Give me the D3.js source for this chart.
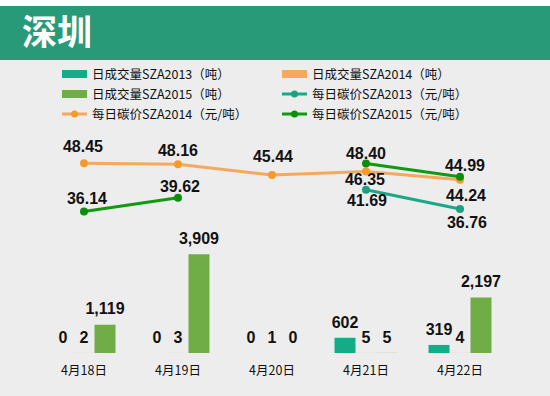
<!DOCTYPE html>
<html>
<head>
<meta charset="utf-8">
<script src="https://cdn.jsdelivr.net/npm/d3@7"></script>
<style>
  body { margin: 0; background: #fff; }
  svg { display: block; }
</style>
</head>
<body>
<div id="chart"></div>
<script>
// data
var categories = ["4月18日", "4月19日", "4月20日", "4月21日", "4月22日"];
var volume2013 = [0, 0, 0, 602, 319];
var volume2014 = [2, 3, 1, 5, 4];
var volume2015 = [1119, 3909, 0, 5, 2197];
var price2013 = [null, null, null, 41.69, 36.76];
var price2014 = [48.45, 48.16, 45.44, 46.35, 44.24];
var price2015 = [36.14, 39.62, null, 48.40, 44.99];
var volumeNames = ["日成交量SZA2013（吨）", "日成交量SZA2014（吨）", "日成交量SZA2015（吨）"];
var priceNames = ["每日碳价SZA2013（元/吨）", "每日碳价SZA2014（元/吨）", "每日碳价SZA2015（元/吨）"];

var width = 550;
var height = 396;

var margin = { top: 118, right: 43, bottom: 43, left: 37 };
var innerWidth = width - margin.left - margin.right;
var innerHeight = height - margin.top - margin.bottom;

var barColors = ["#13ac87", "#f4a95c", "#70ad47"];
var lineColors = ["#1aa88a", "#f5a95e", "#119911"];
var markerColors = ["#1f9f7f", "#f79a2c", "#0b8f0b"];

var svg = d3.select("#chart")
    .append("svg")
    .attr("width", width)
    .attr("height", height);

// background + header band
svg.append("rect").attr("width", width).attr("height", height).attr("fill", "#ededed");
svg.append("rect").attr("width", width).attr("height", 6).attr("fill", "#ffffff");
svg.append("rect").attr("y", 6).attr("width", width).attr("height", 54).attr("fill", "#289a78");
svg.append("text")
    .attr("x", 22)
    .attr("y", 32)
    .attr("dy", "0.36em")
    .style("font-family", "'Noto Sans CJK SC'")
    .style("font-weight", "bold")
    .style("font-size", "35px")
    .attr("fill", "#fff")
    .text("深圳");

// legend
var legendItems = [
    { name: volumeNames[0], type: "bar", i: 0, x: 62, y: 74 },
    { name: volumeNames[1], type: "bar", i: 1, x: 282, y: 74 },
    { name: volumeNames[2], type: "bar", i: 2, x: 62, y: 94 },
    { name: priceNames[0], type: "line", i: 0, x: 282, y: 94 },
    { name: priceNames[1], type: "line", i: 1, x: 62, y: 114 },
    { name: priceNames[2], type: "line", i: 2, x: 282, y: 114 }
];
var legend = svg.append("g").selectAll("g")
    .data(legendItems)
    .enter()
    .append("g")
    .attr("transform", function(d) { return "translate(" + d.x + "," + d.y + ")"; });

legend.filter(function(d) { return d.type == "bar"; })
    .append("rect")
    .attr("y", -4).attr("width", 25).attr("height", 8)
    .attr("fill", function(d) { return barColors[d.i]; });
legend.filter(function(d) { return d.type == "line"; })
    .append("line")
    .attr("x2", 25)
    .attr("stroke", function(d) { return lineColors[d.i]; })
    .attr("stroke-width", 3);
legend.filter(function(d) { return d.type == "line"; })
    .append("circle")
    .attr("cx", 12.5).attr("r", 3.5)
    .attr("fill", function(d) { return markerColors[d.i]; });
legend.append("text")
    .attr("x", 30)
    .attr("dy", "0.36em")
    .style("font-family", "'Noto Sans CJK SC'")
    .style("font-size", "12.5px")
    .attr("fill", "#111")
    .text(function(d) { return d.name; });

var g = svg.append("g")
    .attr("transform", "translate(" + margin.left + "," + margin.top + ")");

// scales
var x0 = d3.scaleBand()
    .domain(categories)
    .range([0, innerWidth])
    .paddingInner(0.33)
    .paddingOuter(0.165);
var x1 = d3.scaleBand()
    .domain([0, 1, 2])
    .range([0, x0.bandwidth()]);
var yVol = d3.scaleLinear().domain([0, 9300]).range([innerHeight, 0]);
var yPrice = d3.scaleLinear().domain([0, 60]).range([innerHeight, 0]);

var volumes = [volume2013, volume2014, volume2015];
var prices = [price2013, price2014, price2015];

// bars
var barData = [];
categories.forEach(function(c, ci) {
    volumes.forEach(function(s, si) {
        barData.push({ cat: c, s: si, v: s[ci] });
    });
});

g.selectAll(".bar")
    .data(barData)
    .enter()
    .append("rect")
    .attr("class", "bar")
    .attr("x", function(d) { return x0(d.cat) + x1(d.s); })
    .attr("width", x1.bandwidth())
    .attr("y", function(d) { return yVol(d.v); })
    .attr("height", function(d) { return innerHeight - yVol(d.v); })
    .attr("fill", function(d) { return barColors[d.s]; });

g.selectAll(".barlabel")
    .data(barData)
    .enter()
    .append("text")
    .attr("class", "barlabel")
    .attr("x", function(d) { return x0(d.cat) + x1(d.s) + x1.bandwidth() / 2; })
    .attr("y", function(d) { return yVol(d.v) - 16; })
    .attr("dy", "0.36em")
    .attr("text-anchor", "middle")
    .style("font-family", "'Liberation Sans', Arial")
    .style("font-weight", "bold")
    .style("font-size", "16px")
    .attr("fill", "#111")
    .text(function(d) { return d3.format(",")(d.v); });

// category labels
g.selectAll(".cat")
    .data(categories)
    .enter()
    .append("text")
    .attr("class", "cat")
    .attr("x", function(d) { return x0(d) + x0.bandwidth() / 2; })
    .attr("y", innerHeight + 17)
    .attr("dy", "0.36em")
    .attr("text-anchor", "middle")
    .style("font-family", "'Noto Sans CJK SC'")
    .style("font-size", "12.5px")
    .attr("fill", "#111")
    .text(function(d) { return d; });

// price lines
function cx(i) { return x0(categories[i]) + x0.bandwidth() / 2; }

var line = d3.line()
    .defined(function(d) { return d != null; })
    .x(function(d, i) { return cx(i); })
    .y(function(d) { return yPrice(d); });

// draw 2014 first, then 2013, then 2015 on top
[1, 0, 2].forEach(function(si) {
    g.append("path")
        .datum(prices[si])
        .attr("fill", "none")
        .attr("stroke", lineColors[si])
        .attr("stroke-width", 3)
        .attr("d", line);
    g.selectAll(".m" + si)
        .data(prices[si].map(function(v, i) { return { v: v, i: i }; }).filter(function(d) { return d.v != null; }))
        .enter()
        .append("circle")
        .attr("cx", function(d) { return cx(d.i); })
        .attr("cy", function(d) { return yPrice(d.v); })
        .attr("r", 4)
        .attr("fill", markerColors[si]);
});

// label nudges so they don't collide (dx, dy from the marker)
var labelOffsets = [
    [null, null, null, [1, 11], [7, 13]],
    [[-1, -17], [0, -14], [1, -19], [-1, 8], [6, 16]],
    [[3, -13], [2, -12], null, [0, -10], [5, -12]]
];

var priceLabels = [];
prices.forEach(function(s, si) {
    s.forEach(function(v, i) {
        if (v != null) priceLabels.push({ v: v, i: i, off: labelOffsets[si][i] });
    });
});

g.selectAll(".plabel")
    .data(priceLabels)
    .enter()
    .append("text")
    .attr("class", "plabel")
    .attr("x", function(d) { return cx(d.i) + d.off[0]; })
    .attr("y", function(d) { return yPrice(d.v) + d.off[1]; })
    .attr("dy", "0.36em")
    .attr("text-anchor", "middle")
    .style("font-family", "'Liberation Sans', Arial")
    .style("font-weight", "bold")
    .style("font-size", "16px")
    .attr("fill", "#111")
    .text(function(d) { return d3.format(".2f")(d.v); });
</script>
</body>
</html>
